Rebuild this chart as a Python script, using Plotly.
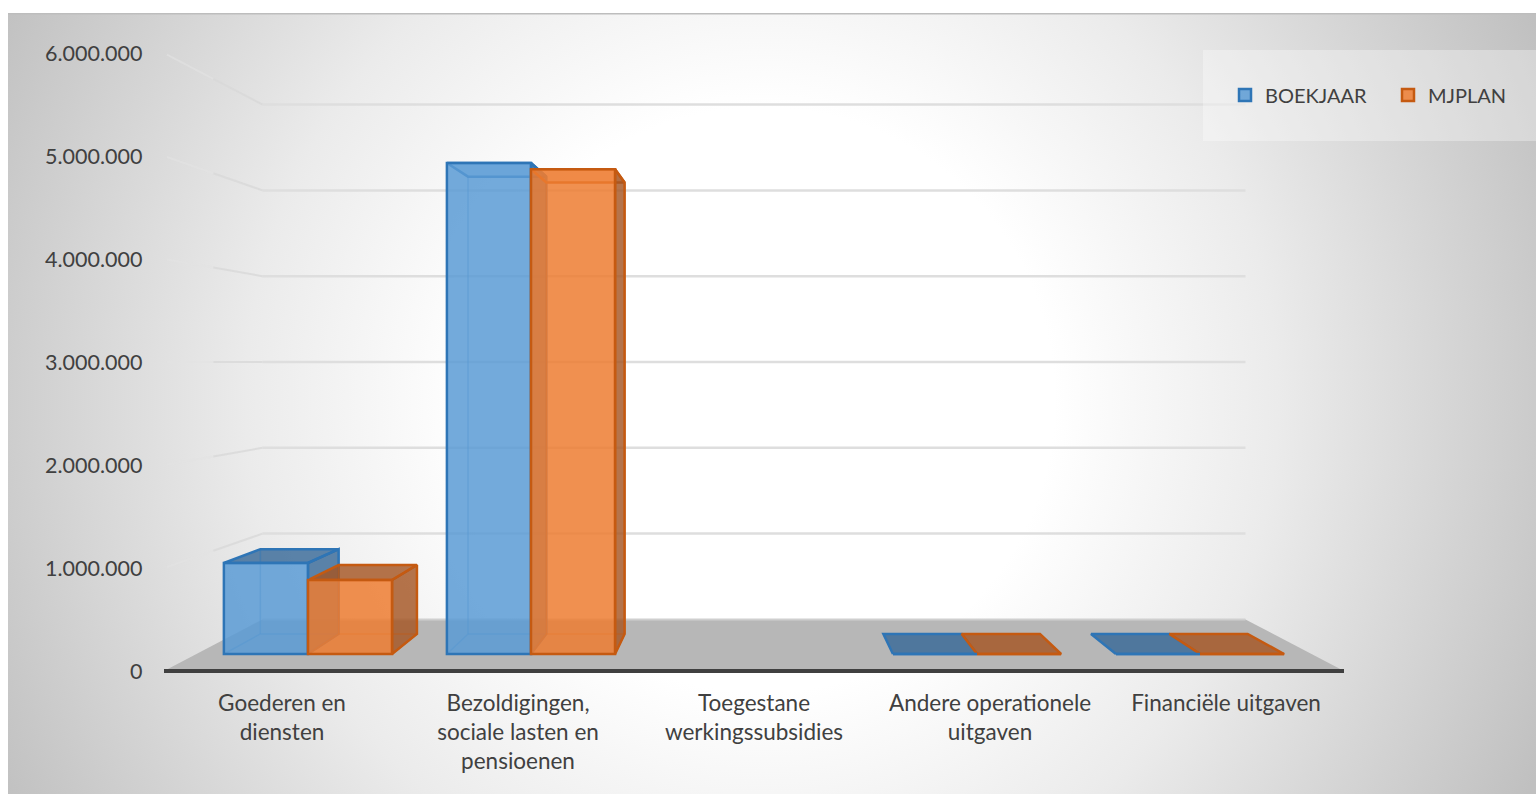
import base64
import plotly.graph_objects as go

# ---- data ----
categories = ["Goederen en<br>diensten", "Bezoldigingen,<br>sociale lasten en<br>pensioenen",
              "Toegestane<br>werkingssubsidies", "Andere operationele<br>uitgaven", "Financiële uitgaven"]
boekjaar = [935000, 5045000, None, 0, 0]
mjplan = [760000, 4980000, None, 0, 0]
y_ticks = [0, 1000000, 2000000, 3000000, 4000000, 5000000, 6000000]

BLUE_FACE, BLUE_EDGE = "rgba(91,155,213,0.85)", "#2e75b6"
ORANGE_FACE, ORANGE_EDGE = "rgba(237,125,49,0.85)", "#c55a11"
BLUE_DARK, ORANGE_DARK = "rgba(52,102,150,0.8)", "rgba(165,85,35,0.82)"
BLUE_THIN, ORANGE_THIN = "rgba(46,117,182,0.45)", "rgba(197,90,17,0.45)"
BLUE_LIGHT, ORANGE_LIGHT = "rgba(91,155,213,0.3)", "rgba(237,125,49,0.3)"

W, H = 1536, 794
PLOT_BOTTOM = 680
PX_PER_CAT, PX_PER_VAL = 236.0, 103.0 / 1e6
CAT0_PX, ZERO_PX = 282.0, 671.0
VP_C, VP_V = 2.0, 3000000.0      # vanishing point, axis units
T_FRONT, T_BACK, T_WALL = 0.055, 0.12, 0.167   # depths of bars and back wall
BAR_W = 0.377
TEXT = "#404040"


def proj(c, v, t):
    return c + t * (VP_C - c), v + t * (VP_V - v)


svg = f'''<svg xmlns="http://www.w3.org/2000/svg" width="{W}" height="{H}" viewBox="0 0 {W} {H}">
<defs><radialGradient id="g" gradientUnits="userSpaceOnUse" cx="762" cy="400" r="860">
<stop offset="0.34" stop-color="#ffffff"/><stop offset="0.6" stop-color="#ebebeb"/><stop offset="1" stop-color="#c0c0c0"/></radialGradient></defs>
<rect width="{W}" height="{H}" fill="#ffffff"/>
<rect x="8" y="13" width="{W-8}" height="{H-13}" fill="url(#g)"/>
<rect x="8" y="13" width="{W-8}" height="1.5" fill="#bdbdbd"/>
</svg>'''
bg = "data:image/svg+xml;base64," + base64.b64encode(svg.encode()).decode()

fig = go.Figure()
xrange_ = [(0 - CAT0_PX) / PX_PER_CAT, (W - CAT0_PX) / PX_PER_CAT]
yrange_ = [(ZERO_PX - PLOT_BOTTOM) / PX_PER_VAL, ZERO_PX / PX_PER_VAL]


def poly(points, fill, line, width=0):
    xs = [p[0] for p in points] + [points[0][0]]
    ys = [p[1] for p in points] + [points[0][1]]
    fig.add_trace(go.Scatter(x=xs, y=ys, mode="lines", fill="toself", fillcolor=fill,
                             line=dict(color=line, width=width), hoverinfo="skip", showlegend=False))


def edge(a, b, color, width=1.5):
    fig.add_trace(go.Scatter(x=[a[0], b[0]], y=[a[1], b[1]], mode="lines", line=dict(color=color, width=width),
                             hoverinfo="skip", showlegend=False))


def cube(c0, c1, v, dark, light, strong, thin):
    fl, fr = proj(c0, v, T_FRONT), proj(c1, v, T_FRONT)
    bl, br = proj(c0, v, T_BACK), proj(c1, v, T_BACK)
    fl0, fr0 = proj(c0, 0, T_FRONT), proj(c1, 0, T_FRONT)
    bl0, br0 = proj(c0, 0, T_BACK), proj(c1, 0, T_BACK)
    poly([fl, fr, br, bl], dark if v < VP_V else light, strong, 2.5)
    if v > 0:
        if c1 < VP_C:
            poly([fr, br, br0, fr0], dark, strong, 2.5)
        edge(bl, bl0, thin)
        edge(br, br0, thin)
        edge(bl0, br0, thin)
        edge(fl0, bl0, thin)
        edge(fr0, br0, thin)


for i, (a, b) in enumerate(zip(boekjaar, mjplan)):
    if a is not None:
        cube(i - BAR_W, i, a, BLUE_DARK, BLUE_LIGHT, BLUE_EDGE, BLUE_THIN)
    if b is not None:
        cube(i, i + BAR_W, b, ORANGE_DARK, ORANGE_LIGHT, ORANGE_EDGE, ORANGE_THIN)


def front_bar(name, values, off0, off1, face, line):
    xs, ys, bases = [], [], []
    for i, v in enumerate(values):
        if v is None:
            continue
        x0 = proj(i + off0, 0, T_FRONT)[0]
        x1 = proj(i + off1, 0, T_FRONT)[0]
        y0 = proj(0, 0, T_FRONT)[1]
        y1 = proj(0, v, T_FRONT)[1]
        xs.append((x0 + x1) / 2)
        ys.append(y1 - y0)
        bases.append(y0)
    fig.add_trace(go.Bar(name=name, x=xs, y=ys, base=bases, width=BAR_W * (1 - T_FRONT),
                         marker=dict(color=face, line=dict(color=line, width=2.5)),
                         xaxis="x2", yaxis="y2", hoverinfo="skip"))


front_bar("BOEKJAAR", boekjaar, -BAR_W, 0, BLUE_FACE, BLUE_EDGE)
front_bar("MJPLAN", mjplan, 0, BAR_W, ORANGE_FACE, ORANGE_EDGE)

shapes = []
a, b = proj(-0.5, 0, 0), proj(4.5, 0, 0)
c, d = proj(4.5, 0, T_WALL), proj(-0.5, 0, T_WALL)
shapes.append(dict(type="path", xref="x", yref="y", layer="below", fillcolor="#b7b7b7",
                   line=dict(width=0),
                   path=f"M{a[0]},{a[1]} L{b[0]},{b[1]} L{c[0]},{c[1]} L{d[0]},{d[1]} Z"))
shapes.append(dict(type="line", xref="x", yref="y", layer="below", x0=d[0], x1=c[0], y0=d[1], y1=c[1],
                   line=dict(color="#cfcfcf", width=2)))
for t in y_ticks[1:]:
    p0, p1 = proj(-0.5, t, T_WALL), proj(4.5, t, T_WALL)
    pm = proj(-0.5, t, T_WALL * 0.5)
    ps = proj(-0.5, t, 0.005)
    shapes.append(dict(type="line", xref="x", yref="y", layer="below", x0=p0[0], x1=p1[0], y0=p0[1], y1=p1[1],
                       line=dict(color="#dedede", width=2.5)))
    shapes.append(dict(type="line", xref="x", yref="y", layer="below", x0=p0[0], x1=pm[0], y0=p0[1], y1=pm[1],
                       line=dict(color="rgba(216,216,216,0.8)", width=2)))
    shapes.append(dict(type="line", xref="x", yref="y", layer="below", x0=pm[0], x1=ps[0], y0=pm[1], y1=ps[1],
                       line=dict(color="rgba(226,226,226,0.6)", width=2)))
shapes.append(dict(type="line", xref="x", yref="y", layer="above", x0=a[0], x1=b[0], y0=a[1], y1=b[1],
                   line=dict(color="#404040", width=4)))
shapes.append(dict(type="rect", xref="paper", yref="paper", layer="above",
                   x0=1203 / W, x1=1, y0=(PLOT_BOTTOM - 141) / PLOT_BOTTOM, y1=(PLOT_BOTTOM - 50) / PLOT_BOTTOM,
                   fillcolor="rgba(255,255,255,0.32)", line=dict(width=0)))

fig.update_layout(
    width=W, height=H, margin=dict(l=0, r=0, t=0, b=H - PLOT_BOTTOM, pad=0, autoexpand=False),
    paper_bgcolor="#ffffff", plot_bgcolor="rgba(0,0,0,0)",
    separators=",.", barmode="overlay", shapes=shapes,
    font=dict(family="Lato", size=21, color=TEXT),
    images=[dict(source=bg, xref="paper", yref="paper", x=0, y=1, sizex=1, sizey=H / PLOT_BOTTOM,
                 xanchor="left", yanchor="top", sizing="stretch", layer="below")],
    xaxis=dict(range=xrange_, tickmode="array", tickvals=list(range(len(categories))), ticktext=categories,
               showgrid=False, zeroline=False, showline=False, ticks="", ticklen=0,
               ticklabelstandoff=7, automargin=False,
               tickfont=dict(family="Lato", size=22.5, color=TEXT)),
    yaxis=dict(range=yrange_, tickmode="array", tickvals=y_ticks, tickformat=",d",
               showgrid=False, zeroline=False, showline=False, ticks="", automargin=False,
               anchor="free", position=142.5 / W, side="left",
               tickfont=dict(family="Lato", size=21.5, color=TEXT)),
    xaxis2=dict(overlaying="x", matches="x", visible=False),
    yaxis2=dict(overlaying="y", matches="y", visible=False),
    legend=dict(orientation="h", x=1225 / W, xanchor="left", y=(PLOT_BOTTOM - 95) / PLOT_BOTTOM, yanchor="middle",
                bgcolor="rgba(0,0,0,0)", borderwidth=0, entrywidth=118, entrywidthmode="pixels",
                font=dict(family="Lato", size=20, color=TEXT)),
)

fig.write_html("out.html", config={"displayModeBar": False},
               post_script="document.body.style.margin='0';document.documentElement.style.overflow='hidden';")
